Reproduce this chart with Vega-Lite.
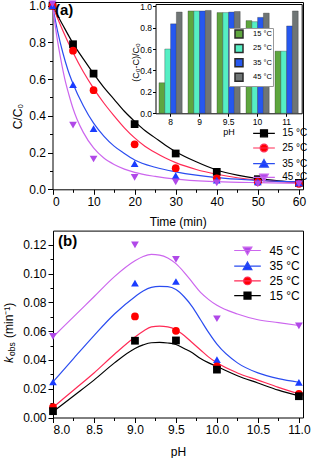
{
  "$schema": "https://vega.github.io/schema/vega-lite/v6.json",
  "width": 313,
  "height": 458,
  "autosize": {"type": "none"},
  "padding": 0,
  "background": "white",
  "config": {
    "view": {"stroke": null},
    "font": "Liberation Sans",
    "axis": {"domainColor": "black", "tickColor": "black", "labelColor": "black", "titleColor": "black", "grid": false, "titleFontWeight": "normal", "labelFontSize": 12, "titleFontSize": 12, "tickSize": 5, "labelPadding": 2, "domainWidth": 1, "tickWidth": 1},
    "legend": {"labelColor": "black", "labelFontSize": 12},
    "text": {"color": "black"}
  },
  "datasets": {
    "curvesA": [
      {"t": 0, "c": 1, "temp": "15 °C"}, {"t": 2.5, "c": 0.895, "temp": "15 °C"}, {"t": 5, "c": 0.795, "temp": "15 °C"}, {"t": 7.5, "c": 0.71, "temp": "15 °C"}, {"t": 10, "c": 0.63, "temp": "15 °C"}, {"t": 12.5, "c": 0.555, "temp": "15 °C"}, {"t": 15, "c": 0.49, "temp": "15 °C"}, {"t": 17.5, "c": 0.425, "temp": "15 °C"}, {"t": 20, "c": 0.37, "temp": "15 °C"}, {"t": 22.5, "c": 0.32, "temp": "15 °C"}, {"t": 25, "c": 0.28, "temp": "15 °C"}, {"t": 27.5, "c": 0.24, "temp": "15 °C"}, {"t": 30, "c": 0.205, "temp": "15 °C"}, {"t": 35, "c": 0.15, "temp": "15 °C"}, {"t": 40, "c": 0.105, "temp": "15 °C"}, {"t": 45, "c": 0.077, "temp": "15 °C"}, {"t": 50, "c": 0.058, "temp": "15 °C"}, {"t": 55, "c": 0.046, "temp": "15 °C"}, {"t": 60, "c": 0.038, "temp": "15 °C"},
      {"t": 0, "c": 1, "temp": "25 °C"}, {"t": 2.5, "c": 0.865, "temp": "25 °C"}, {"t": 5, "c": 0.745, "temp": "25 °C"}, {"t": 7.5, "c": 0.64, "temp": "25 °C"}, {"t": 10, "c": 0.55, "temp": "25 °C"}, {"t": 12.5, "c": 0.47, "temp": "25 °C"}, {"t": 15, "c": 0.4, "temp": "25 °C"}, {"t": 17.5, "c": 0.335, "temp": "25 °C"}, {"t": 20, "c": 0.28, "temp": "25 °C"}, {"t": 22.5, "c": 0.235, "temp": "25 °C"}, {"t": 25, "c": 0.2, "temp": "25 °C"}, {"t": 27.5, "c": 0.17, "temp": "25 °C"}, {"t": 30, "c": 0.145, "temp": "25 °C"}, {"t": 35, "c": 0.108, "temp": "25 °C"}, {"t": 40, "c": 0.082, "temp": "25 °C"}, {"t": 45, "c": 0.063, "temp": "25 °C"}, {"t": 50, "c": 0.05, "temp": "25 °C"}, {"t": 55, "c": 0.042, "temp": "25 °C"}, {"t": 60, "c": 0.036, "temp": "25 °C"},
      {"t": 0, "c": 1, "temp": "35 °C"}, {"t": 1.25, "c": 0.86, "temp": "35 °C"}, {"t": 2.5, "c": 0.745, "temp": "35 °C"}, {"t": 3.75, "c": 0.65, "temp": "35 °C"}, {"t": 5, "c": 0.575, "temp": "35 °C"}, {"t": 7.5, "c": 0.455, "temp": "35 °C"}, {"t": 10, "c": 0.36, "temp": "35 °C"}, {"t": 12.5, "c": 0.29, "temp": "35 °C"}, {"t": 15, "c": 0.235, "temp": "35 °C"}, {"t": 17.5, "c": 0.195, "temp": "35 °C"}, {"t": 20, "c": 0.16, "temp": "35 °C"}, {"t": 25, "c": 0.12, "temp": "35 °C"}, {"t": 30, "c": 0.095, "temp": "35 °C"}, {"t": 35, "c": 0.077, "temp": "35 °C"}, {"t": 40, "c": 0.064, "temp": "35 °C"}, {"t": 45, "c": 0.055, "temp": "35 °C"}, {"t": 50, "c": 0.048, "temp": "35 °C"}, {"t": 55, "c": 0.043, "temp": "35 °C"}, {"t": 60, "c": 0.04, "temp": "35 °C"},
      {"t": 0, "c": 1, "temp": "45 °C"}, {"t": 1, "c": 0.84, "temp": "45 °C"}, {"t": 2, "c": 0.71, "temp": "45 °C"}, {"t": 3, "c": 0.6, "temp": "45 °C"}, {"t": 4, "c": 0.515, "temp": "45 °C"}, {"t": 5, "c": 0.44, "temp": "45 °C"}, {"t": 6, "c": 0.38, "temp": "45 °C"}, {"t": 7.5, "c": 0.31, "temp": "45 °C"}, {"t": 10, "c": 0.225, "temp": "45 °C"}, {"t": 12.5, "c": 0.17, "temp": "45 °C"}, {"t": 15, "c": 0.135, "temp": "45 °C"}, {"t": 17.5, "c": 0.11, "temp": "45 °C"}, {"t": 20, "c": 0.092, "temp": "45 °C"}, {"t": 25, "c": 0.07, "temp": "45 °C"}, {"t": 30, "c": 0.055, "temp": "45 °C"}, {"t": 40, "c": 0.042, "temp": "45 °C"}, {"t": 50, "c": 0.036, "temp": "45 °C"}, {"t": 60, "c": 0.032, "temp": "45 °C"}
    ],
    "pointsA": [
      {"t": 0, "c": 1, "temp": "15 °C"}, {"t": 5, "c": 0.79, "temp": "15 °C"}, {"t": 10, "c": 0.63, "temp": "15 °C"}, {"t": 20, "c": 0.355, "temp": "15 °C"}, {"t": 30, "c": 0.195, "temp": "15 °C"}, {"t": 40, "c": 0.095, "temp": "15 °C"}, {"t": 50, "c": 0.055, "temp": "15 °C"}, {"t": 60, "c": 0.035, "temp": "15 °C"},
      {"t": 0, "c": 1, "temp": "25 °C"}, {"t": 5, "c": 0.755, "temp": "25 °C"}, {"t": 10, "c": 0.54, "temp": "25 °C"}, {"t": 20, "c": 0.245, "temp": "25 °C"}, {"t": 30, "c": 0.115, "temp": "25 °C"}, {"t": 40, "c": 0.06, "temp": "25 °C"}, {"t": 50, "c": 0.04, "temp": "25 °C"}, {"t": 60, "c": 0.03, "temp": "25 °C"},
      {"t": 0, "c": 1, "temp": "35 °C"}, {"t": 5, "c": 0.57, "temp": "35 °C"}, {"t": 10, "c": 0.33, "temp": "35 °C"}, {"t": 20, "c": 0.14, "temp": "35 °C"}, {"t": 30, "c": 0.075, "temp": "35 °C"}, {"t": 40, "c": 0.05, "temp": "35 °C"}, {"t": 50, "c": 0.04, "temp": "35 °C"}, {"t": 60, "c": 0.035, "temp": "35 °C"},
      {"t": 0, "c": 1.01, "temp": "45 °C"}, {"t": 5, "c": 0.35, "temp": "45 °C"}, {"t": 10, "c": 0.165, "temp": "45 °C"}, {"t": 20, "c": 0.065, "temp": "45 °C"}, {"t": 30, "c": 0.04, "temp": "45 °C"}, {"t": 40, "c": 0.035, "temp": "45 °C"}, {"t": 50, "c": 0.03, "temp": "45 °C"}, {"t": 60, "c": 0.03, "temp": "45 °C"}
    ],
    "bars": [
      {"ph": "8", "temp": "15 °C", "v": 0.285}, {"ph": "8", "temp": "25 °C", "v": 0.6}, {"ph": "8", "temp": "35 °C", "v": 0.835}, {"ph": "8", "temp": "45 °C", "v": 0.945},
      {"ph": "9", "temp": "15 °C", "v": 0.955}, {"ph": "9", "temp": "25 °C", "v": 0.955}, {"ph": "9", "temp": "35 °C", "v": 0.955}, {"ph": "9", "temp": "45 °C", "v": 0.96},
      {"ph": "9.5", "temp": "15 °C", "v": 0.94}, {"ph": "9.5", "temp": "25 °C", "v": 0.94}, {"ph": "9.5", "temp": "35 °C", "v": 0.945}, {"ph": "9.5", "temp": "45 °C", "v": 0.95},
      {"ph": "10", "temp": "15 °C", "v": 0.865}, {"ph": "10", "temp": "25 °C", "v": 0.855}, {"ph": "10", "temp": "35 °C", "v": 0.895}, {"ph": "10", "temp": "45 °C", "v": 0.935},
      {"ph": "11", "temp": "15 °C", "v": 0.58}, {"ph": "11", "temp": "25 °C", "v": 0.58}, {"ph": "11", "temp": "35 °C", "v": 0.815}, {"ph": "11", "temp": "45 °C", "v": 0.955}
    ],
    "curvesB": [
      {"ph": 8.0, "k": 0.056, "temp": "45 °C"}, {"ph": 8.25, "k": 0.07, "temp": "45 °C"}, {"ph": 8.5, "k": 0.084, "temp": "45 °C"}, {"ph": 8.75, "k": 0.098, "temp": "45 °C"}, {"ph": 9.0, "k": 0.109, "temp": "45 °C"}, {"ph": 9.1, "k": 0.112, "temp": "45 °C"}, {"ph": 9.2, "k": 0.1135, "temp": "45 °C"}, {"ph": 9.3, "k": 0.113, "temp": "45 °C"}, {"ph": 9.4, "k": 0.111, "temp": "45 °C"}, {"ph": 9.5, "k": 0.107, "temp": "45 °C"}, {"ph": 9.6, "k": 0.101, "temp": "45 °C"}, {"ph": 9.7, "k": 0.094, "temp": "45 °C"}, {"ph": 9.8, "k": 0.087, "temp": "45 °C"}, {"ph": 9.9, "k": 0.082, "temp": "45 °C"}, {"ph": 10.0, "k": 0.078, "temp": "45 °C"}, {"ph": 10.25, "k": 0.072, "temp": "45 °C"}, {"ph": 10.5, "k": 0.068, "temp": "45 °C"}, {"ph": 10.75, "k": 0.066, "temp": "45 °C"}, {"ph": 11.0, "k": 0.064, "temp": "45 °C"},
      {"ph": 8.0, "k": 0.0247, "temp": "35 °C"}, {"ph": 8.25, "k": 0.041, "temp": "35 °C"}, {"ph": 8.5, "k": 0.057, "temp": "35 °C"}, {"ph": 8.75, "k": 0.072, "temp": "35 °C"}, {"ph": 9.0, "k": 0.084, "temp": "35 °C"}, {"ph": 9.1, "k": 0.088, "temp": "35 °C"}, {"ph": 9.2, "k": 0.0905, "temp": "35 °C"}, {"ph": 9.3, "k": 0.0912, "temp": "35 °C"}, {"ph": 9.4, "k": 0.091, "temp": "35 °C"}, {"ph": 9.5, "k": 0.089, "temp": "35 °C"}, {"ph": 9.6, "k": 0.084, "temp": "35 °C"}, {"ph": 9.7, "k": 0.077, "temp": "35 °C"}, {"ph": 9.8, "k": 0.068, "temp": "35 °C"}, {"ph": 9.9, "k": 0.059, "temp": "35 °C"}, {"ph": 10.0, "k": 0.051, "temp": "35 °C"}, {"ph": 10.25, "k": 0.038, "temp": "35 °C"}, {"ph": 10.5, "k": 0.031, "temp": "35 °C"}, {"ph": 10.75, "k": 0.027, "temp": "35 °C"}, {"ph": 11.0, "k": 0.0245, "temp": "35 °C"},
      {"ph": 8.0, "k": 0.007, "temp": "25 °C"}, {"ph": 8.25, "k": 0.019, "temp": "25 °C"}, {"ph": 8.5, "k": 0.031, "temp": "25 °C"}, {"ph": 8.75, "k": 0.044, "temp": "25 °C"}, {"ph": 9.0, "k": 0.056, "temp": "25 °C"}, {"ph": 9.1, "k": 0.06, "temp": "25 °C"}, {"ph": 9.2, "k": 0.063, "temp": "25 °C"}, {"ph": 9.3, "k": 0.0635, "temp": "25 °C"}, {"ph": 9.4, "k": 0.063, "temp": "25 °C"}, {"ph": 9.5, "k": 0.061, "temp": "25 °C"}, {"ph": 9.6, "k": 0.057, "temp": "25 °C"}, {"ph": 9.7, "k": 0.052, "temp": "25 °C"}, {"ph": 9.8, "k": 0.047, "temp": "25 °C"}, {"ph": 9.9, "k": 0.042, "temp": "25 °C"}, {"ph": 10.0, "k": 0.038, "temp": "25 °C"}, {"ph": 10.25, "k": 0.031, "temp": "25 °C"}, {"ph": 10.5, "k": 0.026, "temp": "25 °C"}, {"ph": 10.75, "k": 0.021, "temp": "25 °C"}, {"ph": 11.0, "k": 0.0165, "temp": "25 °C"},
      {"ph": 8.0, "k": 0.004, "temp": "15 °C"}, {"ph": 8.25, "k": 0.015, "temp": "15 °C"}, {"ph": 8.5, "k": 0.026, "temp": "15 °C"}, {"ph": 8.75, "k": 0.038, "temp": "15 °C"}, {"ph": 9.0, "k": 0.048, "temp": "15 °C"}, {"ph": 9.1, "k": 0.0505, "temp": "15 °C"}, {"ph": 9.2, "k": 0.052, "temp": "15 °C"}, {"ph": 9.3, "k": 0.0522, "temp": "15 °C"}, {"ph": 9.4, "k": 0.0518, "temp": "15 °C"}, {"ph": 9.5, "k": 0.0508, "temp": "15 °C"}, {"ph": 9.6, "k": 0.048, "temp": "15 °C"}, {"ph": 9.7, "k": 0.045, "temp": "15 °C"}, {"ph": 9.8, "k": 0.041, "temp": "15 °C"}, {"ph": 9.9, "k": 0.038, "temp": "15 °C"}, {"ph": 10.0, "k": 0.0355, "temp": "15 °C"}, {"ph": 10.25, "k": 0.029, "temp": "15 °C"}, {"ph": 10.5, "k": 0.024, "temp": "15 °C"}, {"ph": 10.75, "k": 0.019, "temp": "15 °C"}, {"ph": 11.0, "k": 0.015, "temp": "15 °C"}
    ],
    "pointsB": [
      {"ph": 8, "k": 0.0564, "temp": "45 °C"}, {"ph": 9, "k": 0.12, "temp": "45 °C"}, {"ph": 9.5, "k": 0.11, "temp": "45 °C"}, {"ph": 10, "k": 0.0687, "temp": "45 °C"}, {"ph": 11, "k": 0.0638, "temp": "45 °C"},
      {"ph": 8, "k": 0.0247, "temp": "35 °C"}, {"ph": 9, "k": 0.0934, "temp": "35 °C"}, {"ph": 9.5, "k": 0.0946, "temp": "35 °C"}, {"ph": 10, "k": 0.0402, "temp": "35 °C"}, {"ph": 11, "k": 0.0245, "temp": "35 °C"},
      {"ph": 8, "k": 0.0072, "temp": "25 °C"}, {"ph": 9, "k": 0.0703, "temp": "25 °C"}, {"ph": 9.5, "k": 0.0603, "temp": "25 °C"}, {"ph": 10, "k": 0.0356, "temp": "25 °C"}, {"ph": 11, "k": 0.0164, "temp": "25 °C"},
      {"ph": 8, "k": 0.0044, "temp": "15 °C"}, {"ph": 9, "k": 0.0534, "temp": "15 °C"}, {"ph": 9.5, "k": 0.0536, "temp": "15 °C"}, {"ph": 10, "k": 0.0333, "temp": "15 °C"}, {"ph": 11, "k": 0.0148, "temp": "15 °C"}
    ]
  },
  "resolve": {
    "scale": {"x": "independent", "y": "independent", "color": "independent", "shape": "independent", "xOffset": "independent"},
    "axis": {"x": "independent", "y": "independent"},
    "legend": {"color": "independent", "shape": "independent"}
  },
  "layer": [
    {
      "data": {"name": "curvesA"},
      "mark": {"type": "line", "interpolate": "monotone", "strokeWidth": 1.2},
      "encoding": {
        "x": {"field": "t", "type": "quantitative", "scale": {"domain": [0, 61], "range": [52.5, 303], "nice": false, "zero": false},
              "axis": {"orient": "bottom", "offset": -268.7, "values": [0, 10, 20, 30, 40, 50, 60], "title": "Time (min)", "titlePadding": 9}},
        "y": {"field": "c", "type": "quantitative", "scale": {"domain": [0, 1.02], "range": [189.3, 2], "nice": false, "zero": false},
              "axis": {"orient": "left", "offset": -52.5, "values": [0, 0.2, 0.4, 0.6, 0.8, 1.0], "format": ".1f", "title": "C/C₀", "titleX": -35, "titleY": 116, "titleAlign": "center", "titleBaseline": "middle", "titleAngle": 270}},
        "color": {"field": "temp", "type": "nominal",
                  "scale": {"domain": ["15 °C", "25 °C", "35 °C", "45 °C"], "range": ["#000000", "#ff2a55", "#2a4cf0", "#cc66ee"]},
                  "legend": {"title": null, "orient": "none", "legendX": 259, "legendY": 128.3, "symbolSize": 49, "labelOffset": 13.2, "labelFontSize": 10, "rowPadding": 1.7, "padding": 0, "symbolStrokeWidth": 1.2,
                             "encode": {"symbols": {"update": {
                               "shape": {"signal": "datum.value == '15 °C' ? 'M-3.1,0H3.1M-1,-1H1V1H-1Z' : datum.value == '25 °C' ? 'M-3.1,0H3.1M1.1,0A1.1,1.1,0,1,1,-1.1,0A1.1,1.1,0,1,1,1.1,0Z' : datum.value == '35 °C' ? 'M-3.1,0H3.1M0,-1.2L1.25,0.95H-1.25Z' : 'M-3.1,0H3.1M0,1.2L1.25,-0.95H-1.25Z'"},
                               "fill": {"signal": "datum.value == '15 °C' ? '#000000' : datum.value == '25 °C' ? '#ff0000' : datum.value == '35 °C' ? '#1a3cff' : '#b048e8'"},
                               "fillOpacity": {"value": 1},
                               "opacity": {"value": 1}
                             }}}}}
      }
    },
    {
      "data": {"name": "pointsA"},
      "mark": {"type": "point", "filled": true, "opacity": 1, "size": 60},
      "encoding": {
        "x": {"field": "t", "type": "quantitative", "scale": {"domain": [0, 61], "range": [52.5, 303], "nice": false, "zero": false},
              "axis": {"orient": "bottom", "offset": -268.7, "values": [5, 15, 25, 35, 45, 55], "labels": false, "domain": false, "tickSize": 3, "title": null}},
        "y": {"field": "c", "type": "quantitative", "scale": {"domain": [0, 1.02], "range": [189.3, 2], "nice": false, "zero": false},
              "axis": {"orient": "left", "offset": -52.5, "values": [0.1, 0.3, 0.5, 0.7, 0.9], "labels": false, "domain": false, "tickSize": 3, "title": null}},
        "color": {"field": "temp", "type": "nominal", "scale": {"domain": ["15 °C", "25 °C", "35 °C", "45 °C"], "range": ["#000000", "#ff0000", "#1a3cff", "#b048e8"]}, "legend": null},
        "shape": {"field": "temp", "type": "nominal", "scale": {"domain": ["15 °C", "25 °C", "35 °C", "45 °C"], "range": ["square", "circle", "triangle-up", "triangle-down"]}, "legend": null}
      }
    },
    {
      "data": {"values": [{"label": "(a)"}]},
      "mark": {"type": "text", "fontSize": 15, "fontWeight": "bold", "align": "left", "baseline": "middle"},
      "encoding": {
        "x": {"datum": 0.61, "type": "quantitative", "scale": {"domain": [0, 61], "range": [52.5, 303], "nice": false, "zero": false},
              "axis": {"orient": "top", "offset": -2, "ticks": false, "labels": false, "title": null, "domain": true}},
        "y": {"datum": 0.977, "type": "quantitative", "scale": {"domain": [0, 1.02], "range": [189.3, 2], "nice": false, "zero": false},
              "axis": {"orient": "right", "offset": -10, "ticks": false, "labels": false, "title": null, "domain": true}},
        "text": {"field": "label"}
      }
    },
    {
      "data": {"name": "bars"},
      "mark": {"type": "bar", "stroke": "#2a2a2a", "strokeWidth": 0.4, "strokeOpacity": 0.8},
      "encoding": {
        "x": {"field": "ph", "type": "nominal", "scale": {"type": "band", "domain": ["8", "9", "9.5", "10", "11"], "range": [155.5, 301.7], "paddingInner": 0.2, "paddingOuter": 0.12},
              "axis": {"orient": "bottom", "offset": -344.7, "labelAngle": 0, "labelFontSize": 8.5, "titleFontSize": 9, "tickSize": 3, "labelPadding": 1, "title": "pH", "titlePadding": 2}},
        "xOffset": {"field": "temp", "type": "nominal", "scale": {"domain": ["15 °C", "25 °C", "35 °C", "45 °C"], "paddingInner": 0, "paddingOuter": 0}},
        "y": {"field": "v", "type": "quantitative", "scale": {"domain": [0, 1.02], "range": [113.3, 4], "nice": false, "zero": false},
              "axis": {"orient": "left", "offset": -155.5, "values": [0, 0.2, 0.4, 0.6, 0.8, 1.0], "format": ".1f", "labelFontSize": 8.5, "titleFontSize": 9, "tickSize": 3, "labelPadding": 1, "title": "(C₀-C)/C₀", "titleX": -19.7, "titleY": 62, "titleAlign": "center", "titleBaseline": "middle", "titleAngle": 270}},
        "color": {"field": "temp", "type": "nominal",
                  "scale": {"domain": ["15 °C", "25 °C", "35 °C", "45 °C"], "range": ["#5ea63e", "#55efc4", "#2658f0", "#6f7575"]},
                  "legend": {"title": null, "orient": "none", "legendX": 229, "legendY": 28, "symbolSize": 64, "symbolOffset": 4, "labelOffset": 9, "labelFontSize": 7.5, "rowPadding": 0.4, "padding": 1, "fillColor": "white", "strokeColor": "#999999",
                             "encode": {"symbols": {"update": {"shape": {"value": "M-2,-0.9H2V0.9H-2Z"}, "stroke": {"value": "#333333"}, "strokeWidth": {"value": 0.5}, "fillOpacity": {"value": 1}, "opacity": {"value": 1}}}}}}
      }
    },
    {
      "data": {"name": "bars"},
      "mark": {"type": "bar", "opacity": 0},
      "encoding": {
        "x": {"field": "ph", "type": "nominal", "scale": {"type": "band", "domain": ["8", "9", "9.5", "10", "11"], "range": [155.5, 301.7], "paddingInner": 0.2, "paddingOuter": 0.12},
              "axis": {"orient": "top", "offset": -4, "ticks": false, "labels": false, "title": null, "domain": true}},
        "xOffset": {"field": "temp", "type": "nominal", "scale": {"domain": ["15 °C", "25 °C", "35 °C", "45 °C"], "paddingInner": 0, "paddingOuter": 0}},
        "y": {"field": "v", "type": "quantitative", "scale": {"domain": [0, 1.02], "range": [113.3, 4], "nice": false, "zero": false},
              "axis": {"orient": "right", "offset": -11.3, "ticks": false, "labels": false, "title": null, "domain": true}}
      }
    },
    {
      "data": {"name": "curvesB"},
      "mark": {"type": "line", "interpolate": "monotone", "strokeWidth": 1.2},
      "encoding": {
        "x": {"field": "ph", "type": "quantitative", "scale": {"domain": [8, 11.05], "range": [53, 303], "nice": false, "zero": false},
              "axis": {"orient": "bottom", "offset": -40.5, "values": [8, 8.5, 9, 9.5, 10, 10.5, 11], "format": ".1f", "title": "pH", "titlePadding": 11}},
        "y": {"field": "k", "type": "quantitative", "scale": {"domain": [0, 0.13], "range": [417.5, 230.6], "nice": false, "zero": false},
              "axis": {"orient": "left", "offset": -53, "values": [0, 0.02, 0.04, 0.06, 0.08, 0.1, 0.12], "format": ".2f", "title": null}},
        "color": {"field": "temp", "type": "nominal",
                  "scale": {"domain": ["45 °C", "35 °C", "25 °C", "15 °C"], "range": ["#cc66ee", "#2a4cf0", "#ff2a55", "#000000"]},
                  "legend": {"title": null, "orient": "none", "legendX": 241.5, "legendY": 244.5, "symbolSize": 49, "labelOffset": 16, "rowPadding": 1.7, "padding": 0, "symbolStrokeWidth": 1.2,
                             "encode": {"symbols": {"update": {
                               "shape": {"signal": "datum.value == '15 °C' ? 'M-3.8,0H3.8M-1,-1H1V1H-1Z' : datum.value == '25 °C' ? 'M-3.8,0H3.8M1.1,0A1.1,1.1,0,1,1,-1.1,0A1.1,1.1,0,1,1,1.1,0Z' : datum.value == '35 °C' ? 'M-3.8,0H3.8M0,-1.2L1.25,0.95H-1.25Z' : 'M-3.8,0H3.8M0,1.2L1.25,-0.95H-1.25Z'"},
                               "fill": {"signal": "datum.value == '15 °C' ? '#000000' : datum.value == '25 °C' ? '#ff0000' : datum.value == '35 °C' ? '#1a3cff' : '#b048e8'"},
                               "fillOpacity": {"value": 1},
                               "opacity": {"value": 1}
                             }}}}}
      }
    },
    {
      "data": {"name": "pointsB"},
      "mark": {"type": "point", "filled": true, "opacity": 1, "size": 60},
      "encoding": {
        "x": {"field": "ph", "type": "quantitative", "scale": {"domain": [8, 11.05], "range": [53, 303], "nice": false, "zero": false},
              "axis": {"orient": "bottom", "offset": -40.5, "values": [8.25, 8.75, 9.25, 9.75, 10.25, 10.75], "labels": false, "domain": false, "tickSize": 3, "title": null}},
        "y": {"field": "k", "type": "quantitative", "scale": {"domain": [0, 0.13], "range": [417.5, 230.6], "nice": false, "zero": false},
              "axis": {"orient": "left", "offset": -53, "values": [0.01, 0.03, 0.05, 0.07, 0.09, 0.11], "labels": false, "domain": false, "tickSize": 3, "title": null}},
        "color": {"field": "temp", "type": "nominal", "scale": {"domain": ["15 °C", "25 °C", "35 °C", "45 °C"], "range": ["#000000", "#ff0000", "#1a3cff", "#b048e8"]}, "legend": null},
        "shape": {"field": "temp", "type": "nominal", "scale": {"domain": ["15 °C", "25 °C", "35 °C", "45 °C"], "range": ["square", "circle", "triangle-up", "triangle-down"]}, "legend": null}
      }
    },
    {
      "data": {"values": [{"label": "(b)"}]},
      "mark": {"type": "text", "fontSize": 15, "fontWeight": "bold", "align": "left", "baseline": "middle"},
      "encoding": {
        "x": {"datum": 8.061, "type": "quantitative", "scale": {"domain": [8, 11.05], "range": [53, 303], "nice": false, "zero": false},
              "axis": {"orient": "top", "offset": -230.6, "ticks": false, "labels": false, "title": null, "domain": true}},
        "y": {"datum": 0.1231, "type": "quantitative", "scale": {"domain": [0, 0.13], "range": [417.5, 230.6], "nice": false, "zero": false},
              "axis": {"orient": "right", "offset": -10, "ticks": false, "labels": false, "title": null, "domain": true}},
        "text": {"field": "label"}
      }
    },
    {
      "data": {"values": [{"label": "k"}]},
      "mark": {"type": "text", "fontSize": 12.5, "fontStyle": "italic", "align": "left", "baseline": "alphabetic", "angle": 270},
      "encoding": {
        "x": {"datum": 7.506, "type": "quantitative", "scale": {"domain": [8, 11.05], "range": [53, 303], "nice": false, "zero": false}, "axis": null},
        "y": {"datum": 0.0379, "type": "quantitative", "scale": {"domain": [0, 0.13], "range": [417.5, 230.6], "nice": false, "zero": false}, "axis": null},
        "text": {"field": "label"}
      }
    },
    {
      "data": {"values": [{"label": "obs"}]},
      "mark": {"type": "text", "fontSize": 8.5, "align": "left", "baseline": "alphabetic", "angle": 270},
      "encoding": {
        "x": {"datum": 7.533, "type": "quantitative", "scale": {"domain": [8, 11.05], "range": [53, 303], "nice": false, "zero": false}, "axis": null},
        "y": {"datum": 0.0428, "type": "quantitative", "scale": {"domain": [0, 0.13], "range": [417.5, 230.6], "nice": false, "zero": false}, "axis": null},
        "text": {"field": "label"}
      }
    },
    {
      "data": {"values": [{"label": "(min⁻¹)"}]},
      "mark": {"type": "text", "fontSize": 12, "align": "left", "baseline": "alphabetic", "angle": 270},
      "encoding": {
        "x": {"datum": 7.506, "type": "quantitative", "scale": {"domain": [8, 11.05], "range": [53, 303], "nice": false, "zero": false}, "axis": null},
        "y": {"datum": 0.0553, "type": "quantitative", "scale": {"domain": [0, 0.13], "range": [417.5, 230.6], "nice": false, "zero": false}, "axis": null},
        "text": {"field": "label"}
      }
    }
  ]
}
